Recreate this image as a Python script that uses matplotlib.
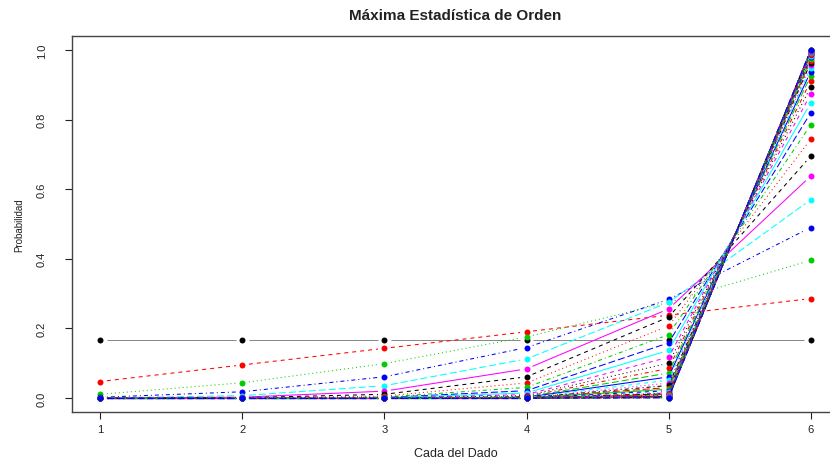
import numpy as np
import matplotlib
matplotlib.use("Agg")
import matplotlib.pyplot as plt

plt.rcParams['font.family'] = ['Liberation Sans', 'DejaVu Sans']
plt.rcParams['lines.scale_dashes'] = False

# caras del dado
caras = [1, 2, 3, 4, 5, 6]

# probabilidad de cada cara, una entrada por curva (40 curvas)
cara1 = [0.1667, 0.0476, 0.0110, 0.0023, 0.0004, 0.0001] + [0.0] * 34
cara2 = [0.1667, 0.0952, 0.0440, 0.0181, 0.0070, 0.0026, 0.0010, 0.0003,
         0.0001] + [0.0] * 31
cara3 = [0.1667, 0.1429, 0.0989, 0.0612, 0.0356, 0.0199, 0.0109, 0.0058,
         0.0031, 0.0016, 0.0008, 0.0004, 0.0002, 0.0001] + [0.0] * 26
cara4 = [0.1667, 0.1905, 0.1758, 0.1451, 0.1125, 0.0839, 0.0610, 0.0435,
         0.0306, 0.0213, 0.0147, 0.0101, 0.0069, 0.0046, 0.0031, 0.0022,
         0.0014, 0.0010, 0.0007, 0.0005, 0.0003, 0.0002, 0.0001] + [0.0] * 17
cara5 = [0.1667, 0.2381, 0.2747, 0.2834, 0.2747, 0.2561, 0.2326, 0.2074,
         0.1823, 0.1586, 0.1369, 0.1174, 0.1002, 0.0851, 0.0720, 0.0608,
         0.0513, 0.0431, 0.0362, 0.0303, 0.0254, 0.0212, 0.0178, 0.0149,
         0.0124, 0.0104, 0.0087, 0.0072, 0.0060, 0.0050, 0.0042, 0.0035,
         0.0029, 0.0024, 0.0020, 0.0017, 0.0014, 0.0012, 0.0010, 0.0008]
cara6 = [0.1667, 0.2857, 0.3956, 0.4898, 0.5697, 0.6373, 0.6946, 0.7430,
         0.7839, 0.8185, 0.8476, 0.8721, 0.8928, 0.9102, 0.9248, 0.9370,
         0.9473, 0.9559, 0.9631, 0.9692, 0.9743, 0.9786, 0.9821, 0.9850,
         0.9875, 0.9896, 0.9913, 0.9928, 0.9940, 0.9950, 0.9958, 0.9965,
         0.9971, 0.9976, 0.9980, 0.9983, 0.9986, 0.9988, 0.9990, 0.9992]

yticks = [0.0, 0.2, 0.4, 0.6, 0.8, 1.0]
ylabels = ["0.0", "0.2", "0.4", "0.6", "0.8", "1.0"]

colores = ["black", "#FF0000", "#00CD00", "#0000FF", "#00FFFF", "#FF00FF"]
px = 0.72  # un pixel en puntos
estilos = [
    "-",
    (0, (4 * px, 4 * px)),
    (0, (1 * px, 3 * px)),
    (0, (1 * px, 3 * px, 4 * px, 3 * px)),
    (0, (7 * px, 3 * px)),
]

probs = np.column_stack([cara1, cara2, cara3, cara4, cara5, cara6])

fig = plt.figure(figsize=(8.3, 4.6), dpi=100)
ax = fig.add_axes([72 / 830, 47 / 460, 767 / 830, 376 / 460])
ax.set_xlim(0.8, 6.2)
ax.set_ylim(-0.04, 1.04)

gap = 6.5  # hueco en pixeles alrededor de cada punto (type = "b")
inv = ax.transData.inverted()
for i in range(probs.shape[0]):
    col = colores[i % 6]
    ls = estilos[i % 5]
    pts = ax.transData.transform(np.column_stack([caras, probs[i]]))
    for a, b in zip(pts[:-1], pts[1:]):
        d = b - a
        L = np.hypot(d[0], d[1])
        if L <= 2 * gap:
            continue
        u = d / L
        seg = inv.transform(np.array([a + u * gap, b - u * gap]))
        ax.plot(seg[:, 0], seg[:, 1], color=col, linestyle=ls,
                lw=0.55 if i == 0 else 0.75,
                alpha=0.6 if i == 0 else 1.0,
                zorder=2 + i * 0.01, solid_capstyle='butt')
    ax.plot(caras, probs[i], linestyle="none", marker="o", ms=4.3,
            mew=0, color=col, zorder=2.005 + i * 0.01)

for s in ax.spines.values():
    s.set_color("#444444")
    s.set_linewidth(1.0)

ax.set_xticks(caras)
ax.set_yticks(yticks)
ax.set_yticklabels(ylabels, rotation=90, va="center")
ax.tick_params(direction="out", length=5, width=0.8, colors="#222222",
               labelsize=8)
ax.tick_params(axis="y", pad=13)
ax.tick_params(axis="x", pad=4)

ax.set_xlabel("Cada del Dado", fontsize=9, color="#222222", labelpad=9)
ax.set_ylabel("Probabilidad", fontsize=7, color="#222222", labelpad=9)
fig.text(455 / 830, 1 - 16 / 460, "Máxima Estadística de Orden",
         ha="center", va="center", fontsize=11, fontweight="bold",
         color="#222222")

fig.savefig("out.png", dpi=100)
